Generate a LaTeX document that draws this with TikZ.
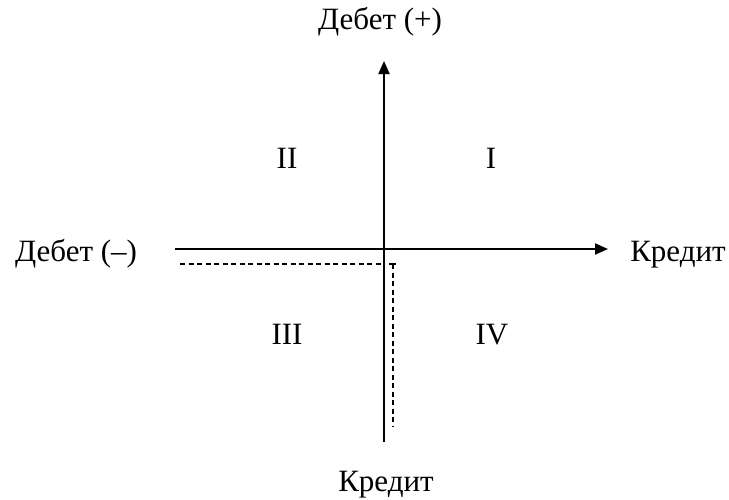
\documentclass[tikz,border=0pt]{standalone}
\usepackage{fontspec}
\setmainfont{Liberation Serif}
\usetikzlibrary{arrows.meta}
\begin{document}
\begin{tikzpicture}[x=1pt,y=-1pt,
  axis/.style={line width=2pt,-{Triangle[length=13pt,width=11pt]}},
  dashline/.style={line width=1.3pt,dash pattern=on 5pt off 3.5pt},
  lbl/.style={font=\fontsize{31}{36}\selectfont,inner sep=0pt}]
\useasboundingbox (0,0) rectangle (729,499);
% axis end points
\coordinate (vtop) at (384,61);
\coordinate (vbot) at (384,442);
\coordinate (hleft) at (175,249);
\coordinate (hright) at (608,249);
\draw[axis] (vbot) -- (vtop);
\draw[axis] (hleft) -- (hright);
% dashed lines
\coordinate (d1) at (180,264);
\coordinate (d2) at (383,264);
\coordinate (d3) at (389,264);
\coordinate (d4) at (393,264);
\coordinate (d5) at (393,426);
\coordinate (d6) at (396,264);
\draw[dashline] (d1) -- (d2);
\draw[line width=1.3pt] (d3) -- (d6);
\draw[dashline] (d4) -- (d5);
% labels
\node[lbl] (dplus) at (380,22) {Дебет (+)};
\node[lbl] (dminus) at (76,254) {Дебет (–)};
\node[lbl] (kright) at (678,255) {Кредит};
\node[lbl] (kbot) at (386,485) {Кредит};
\node[lbl] (q1) at (491,158) {I};
\node[lbl] (q2) at (287,158) {II};
\node[lbl] (q3) at (287,334) {III};
\node[lbl] (q4) at (492,335) {IV};
\end{tikzpicture}
\end{document}
